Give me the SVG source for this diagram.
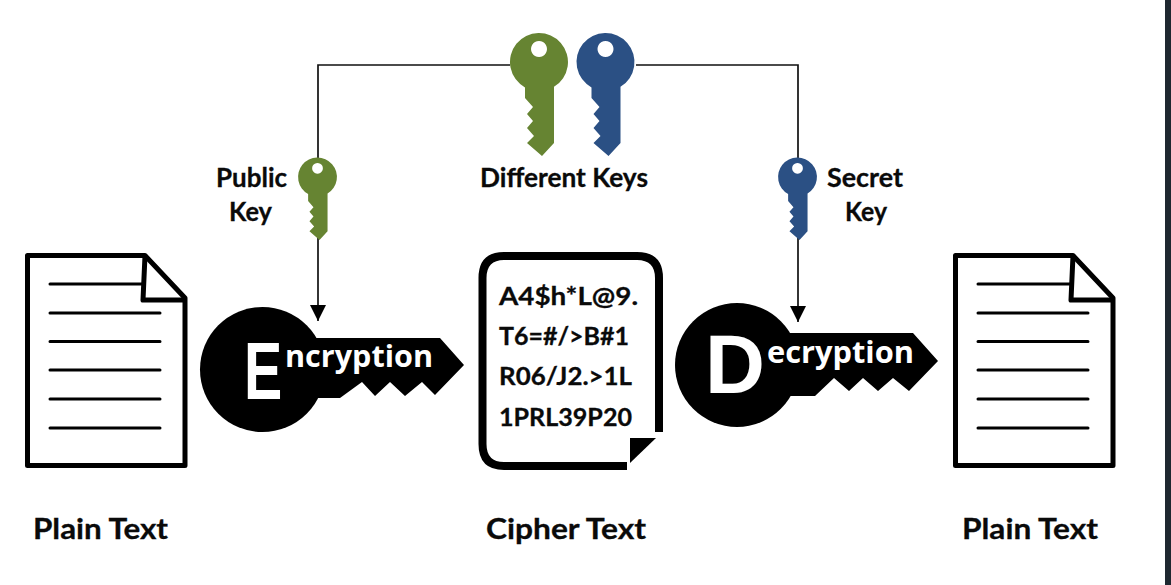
<svg xmlns="http://www.w3.org/2000/svg" width="1171" height="585" viewBox="0 0 1171 585">
<style>
.t{font-family:Lato,"Liberation Sans",sans-serif;font-weight:700;fill:#0a0a0a;stroke:#0a0a0a;stroke-width:.3}
.w{font-family:"Open Sans","Liberation Sans",sans-serif;font-weight:700;fill:#fff}
.big{font-family:"Liberation Sans",Arial,sans-serif;font-weight:700;fill:#fff}
.doc{fill:#fff;stroke:#000;stroke-width:5;stroke-linejoin:round}
.ln{stroke:#000;stroke-width:3;stroke-linecap:round;fill:none}
.con{fill:none;stroke:#111;stroke-width:1.7}
.green{fill:#668432}
.blue{fill:#2b5084}
</style>
<defs>
<marker id="arr" markerUnits="userSpaceOnUse" markerWidth="16" markerHeight="16" refX="15" refY="7.500" orient="auto" viewBox="0 0 15 15"><path d="M0 0L15 7.500L0 15Z" fill="#000"/></marker>
<path id="keyShape" fill-rule="evenodd" d="M-14 25.400A29 29 0 1 1 15 24.800V81L3 94L-12 81L-5 74L-12 66L-6 59L-12 52L-6 45L-14 36ZM0-21a8 8 0 1 0 .01 0Z"/>
<g id="page">
<path class="doc" d="M27.500 255.500H145L185 298V465.500H27.500Z"/>
<path class="doc" style="fill:none" d="M145 255.500L143 300H185"/>
<path class="ln" d="M50 284H143M50 313H160M50 341.500H160M50 370H160M50 399H160M50 428H160"/>
</g>
</defs>
<rect width="1171" height="585" fill="#fff"/>
<rect x="1165" y="0" width="6" height="585" fill="#1f2830"/>
<g id="connectors">
<path class="con" d="M510 65H318V158"/>
<path class="con" d="M636 65H798V158"/>
<path class="con" d="M318 238V321" marker-end="url(#arr)"/>
<path class="con" d="M798 238V322" marker-end="url(#arr)"/>
</g>
<g id="key-green-large"><use href="#keyShape" class="green" transform="translate(539 62)"/></g>
<g id="key-blue-large"><use href="#keyShape" class="blue" transform="translate(605.500 62)"/></g>
<g id="key-public"><use href="#keyShape" class="green" transform="translate(317.500 177) scale(.67)"/>
<text class="t" font-size="26" x="216" y="187" textLength="71" lengthAdjust="spacingAndGlyphs">Public</text>
<text class="t" font-size="26" x="229" y="221" textLength="43" lengthAdjust="spacingAndGlyphs">Key</text></g>
<g id="key-secret"><use href="#keyShape" class="blue" transform="translate(797.500 177) scale(.67)"/>
<text class="t" font-size="26" x="827" y="187" textLength="76" lengthAdjust="spacingAndGlyphs">Secret</text>
<text class="t" font-size="26" x="845" y="221" textLength="42" lengthAdjust="spacingAndGlyphs">Key</text></g>
<g id="different-keys"><text class="t" font-size="26" x="480" y="187" textLength="168" lengthAdjust="spacingAndGlyphs">Different Keys</text></g>
<g id="plain-left"><use href="#page"/>
<text class="t" font-size="29" x="33" y="539" textLength="135" lengthAdjust="spacingAndGlyphs">Plain Text</text></g>
<g id="encryption">
<circle cx="262.500" cy="369.500" r="62.500" fill="#000"/>
<path fill="#000" d="M300 338H440L464 365L435 395L422 382L405 396L390 382L375 396L362 382L340 398H300Z"/>
<text class="big" font-size="82" transform="translate(244 399) scale(.7 1)">E</text>
<text class="w" font-size="31" x="285" y="367" textLength="148" lengthAdjust="spacingAndGlyphs">ncryption</text>
</g>
<g id="cipher">
<path fill="none" stroke="#000" stroke-width="8" stroke-linejoin="round" d="M659 432V278Q659 256 637 256H504Q482.500 256 482.500 278V444Q482.500 466 504 466H627"/>
<path fill="#000" d="M630 438H656L630 463Z"/>
<text class="t" font-size="25" x="499" y="305" textLength="139" lengthAdjust="spacingAndGlyphs">A4$h*L@9.</text>
<text class="t" font-size="25" x="499" y="345" textLength="130" lengthAdjust="spacingAndGlyphs">T6=#/&gt;B#1</text>
<text class="t" font-size="25" x="499" y="385" textLength="133" lengthAdjust="spacingAndGlyphs">R06/J2.&gt;1L</text>
<text class="t" font-size="25" x="499" y="426" textLength="133" lengthAdjust="spacingAndGlyphs">1PRL39P20</text>
<text class="t" font-size="29" x="486" y="539" textLength="160" lengthAdjust="spacingAndGlyphs">Cipher Text</text>
</g>
<g id="decryption">
<circle cx="737" cy="365" r="62" fill="#000"/>
<path fill="#000" d="M775 333H913L938 361L909 391L893 378L878 391L863 378L849 391L834 378L815 396H775Z"/>
<text class="big" font-size="83" x="705" y="393">D</text>
<text class="w" font-size="31" x="767" y="363" textLength="147" lengthAdjust="spacingAndGlyphs">ecryption</text>
</g>
<g id="plain-right"><use href="#page" x="928"/>
<text class="t" font-size="29" x="962" y="539" textLength="136" lengthAdjust="spacingAndGlyphs">Plain Text</text></g>
</svg>
